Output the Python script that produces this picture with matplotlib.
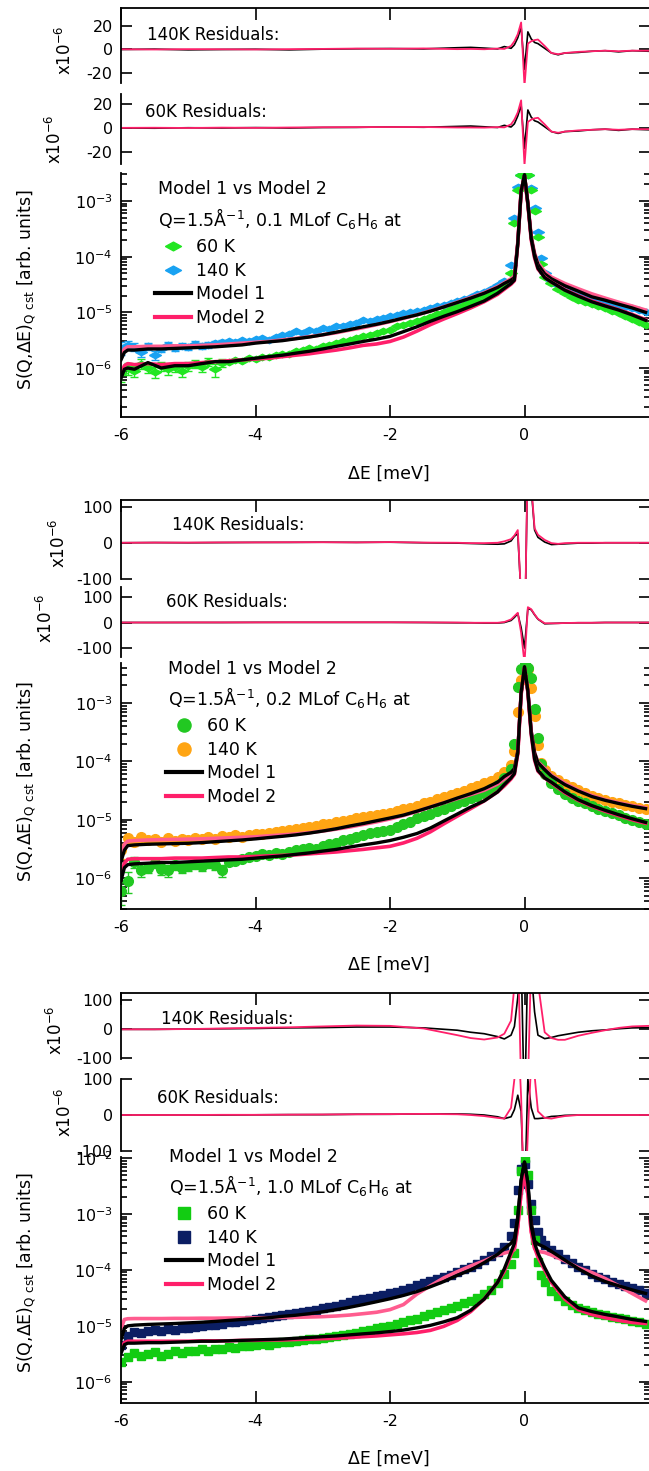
import numpy as np
import matplotlib.pyplot as plt
from matplotlib.ticker import FixedLocator, LogLocator, NullFormatter

plt.rcParams['font.family'] = ['DejaVu Sans']
plt.rcParams['mathtext.default'] = 'regular'
plt.rcParams['axes.unicode_minus'] = False

# energy transfer grids (meV)
E_pts = np.concatenate([np.arange(-60, -2) / 10,
                        [-0.2, -0.15, -0.1, -0.05, 0.0, 0.05, 0.1, 0.15, 0.2, 0.25, 0.3],
                        np.arange(4, 19) / 10])
E_fit = np.concatenate([[-6.0, -5.95, -5.9, -5.8], np.arange(-28, -1) / 5,
                        [-0.3, -0.2, -0.15, -0.1, -0.05, 0.0, 0.05, 0.1, 0.15, 0.2, 0.3],
                        np.arange(2, 10) / 5])
E_res = [-6, -5.5, -5, -4.5, -4, -3.5, -3, -2.5, -2, -1.5, -1,
         -0.8, -0.6, -0.4, -0.3, -0.2, -0.15, -0.1, -0.05, 0, 0.05, 0.1, 0.15,
         0.2, 0.3, 0.4, 0.5, 0.6, 0.8, 1.0, 1.2, 1.4, 1.6, 1.85]

# ---- 0.1 ML (intensities in 1e-6 arb. units) ----
s60_01 = [0.8, 1.0, 0.9, 1.2, 1.0, 0.85, 1.1, 0.95, 1.05, 0.9,
          1.1, 1.2, 1.05, 1.3, 0.95, 1.25, 1.3, 1.4, 1.35, 1.5,
          1.45, 1.6, 1.55, 1.7, 1.8, 1.75, 2.0, 2.1, 2.3, 2.2,
          2.5, 2.6, 2.8, 3.0, 3.2, 3.4, 3.7, 3.9, 4.3, 4.6,
          4.9, 5.6, 5.9, 6.5, 7.0, 7.6, 8.4, 9.3, 10.2, 11.4,
          12.5, 13.8, 15.3, 17.0, 19.5, 22.0, 26, 31,
          50, 400, 1600, 2900, 3200, 2900, 1600, 650, 230, 75, 44,
          33, 26, 22, 19, 17, 15.5, 14.2, 13, 11.8, 10.6, 9.6, 8.6, 7.6, 6.7, 6.0]
s140_01 = [2.3, 2.6, 2.4, 1.9, 2.5, 1.7, 2.2, 2.6, 2.3, 2.5,
           2.4, 2.7, 2.5, 2.6, 2.8, 2.9, 3.1, 2.9, 3.2, 3.0,
           3.3, 3.4, 3.2, 3.6, 3.9, 4.1, 4.6, 4.3, 4.8, 4.7,
           5.2, 5.0, 5.6, 5.7, 6.1, 6.4, 7.4, 7.0, 7.6, 8.0,
           8.5, 8.9, 9.6, 10.0, 10.6, 11.2, 12.0, 13.0, 13.8, 15.0,
           16.2, 17.5, 19.2, 21.0, 23.5, 26.5, 30.5, 36,
           70, 500, 1800, 2900, 3150, 2900, 1700, 750, 280, 95, 50,
           38, 31, 27, 24, 22, 19.5, 18, 16.5, 15.5, 14.5, 13.5, 12.7, 11.8, 10.9, 10.0]
err60_01 = [0.25, 0.25, 0.2, 0.25, 0.2, 0.2, 0.2, 0.2, 0.2, 0.2, 0.2, 0.2, 0.2, 0.2, 0.25, 0.2]
err140_01 = [0.6, 0.4, 0.4, 0.35, 0.35, 0.3, 0.3, 0.3, 0.3, 0.3, 0.3, 0.3, 0.3, 0.3, 0.3, 0.3]

m1_60_01 = [0.65, 0.95, 1.0, 0.95,
            1.25, 1.0, 1.1, 1.1, 1.2, 1.3, 1.3, 1.4, 1.5, 1.6,
            1.7, 1.85, 2.0, 2.2, 2.45, 2.7, 3.0, 3.3, 3.7,
            4.5, 5.5, 6.9, 8.5, 10.3, 12.8, 16, 22,
            27, 33, 38, 170, 1500, 2950, 900, 210, 100, 62, 42,
            35, 25, 19.5, 15.5, 13, 11, 9, 7.2]
m2_60_01 = [0.75, 1.1, 1.2, 1.15,
            1.2, 1.15, 1.2, 1.2, 1.25, 1.3, 1.35, 1.4, 1.45, 1.5,
            1.6, 1.7, 1.8, 1.95, 2.1, 2.3, 2.55, 2.7, 3.0,
            3.6, 4.6, 6.0, 7.6, 9.5, 12, 15.5, 21,
            26, 32, 37, 170, 1500, 2800, 880, 200, 95, 60, 43,
            35, 25.5, 20, 16, 13.3, 11.2, 9.2, 7.4]
m1_140_01 = [1.4, 1.9, 2.1, 2.1,
             2.2, 2.2, 2.25, 2.3, 2.35, 2.4, 2.5, 2.6, 2.8, 2.95,
             3.1, 3.35, 3.6, 3.95, 4.4, 4.9, 5.5, 6.1, 6.9,
             7.9, 9.0, 10.5, 12.5, 15, 18, 22, 28,
             33, 38, 42, 175, 1500, 2950, 900, 220, 110, 72, 49,
             40, 30, 24, 19, 16.5, 14, 12, 10]
m2_140_01 = [1.6, 2.2, 2.4, 2.4,
             2.45, 2.45, 2.5, 2.5, 2.55, 2.6, 2.7, 2.8, 2.9, 3.0,
             3.2, 3.4, 3.65, 3.95, 4.3, 4.8, 5.3, 6.0, 6.8,
             7.8, 9.0, 10.6, 12.6, 15.2, 18.5, 22.5, 29,
             34, 40, 45, 180, 1500, 2800, 900, 230, 115, 78, 54,
             43, 33, 26.5, 21.5, 18, 15.2, 13, 11]

r1_140_01 = [0, 0.3, -0.3, 0, 0.2, -0.3, 0.3, 0.6, 0.8, 0.5, 1.5,
             1.8, 1.2, 0.5, 2.5, 1.0, 4, 10, 19, -17, 15, 9, 6,
             5, 1, -3, -4.5, -3, -2.5, -1.5, -1, -2, -1, -1.5]
r2_140_01 = [0.2, 0, 0.3, 0.2, 0, 0.3, 0.5, 0.8, 0.6, 0.9, 0.3,
             0.5, 0.2, 0.8, 0.5, 3, 7, 13, 23, -31, 5, 7, 8,
             8.5, 3, -3, -4, -3, -2, -1.5, -1, -1.5, -1, -1]
r1_60_01 = [0, -0.2, 0.2, 0, 0.3, 0, 0.4, 0.5, 0.9, 0.6, 1.3,
            1.6, 1.0, 0.4, 2.2, 0.8, 3.5, 10, 19, -17, 15, 9, 6,
            5, 1, -3, -4.5, -3, -2.5, -1.5, -1, -2, -1, -1.5]
r2_60_01 = [0.1, 0.2, 0, 0.3, 0.1, 0.4, 0.6, 0.7, 0.8, 0.8, 0.4,
            0.4, 0.3, 0.7, 0.5, 3, 7, 13, 23, -31, 5, 7, 8,
            8.5, 3, -3, -4, -3, -2, -1.5, -1, -1.5, -1, -1]

# ---- 0.2 ML ----
s60_02 = [0.6, 0.9, 1.9, 1.4, 1.5, 1.8, 1.45, 1.35, 1.7, 1.5,
          1.6, 1.75, 1.6, 1.8, 1.7, 1.35, 1.9, 2.0, 2.1, 2.3,
          2.4, 2.6, 2.5, 2.7, 2.6, 2.8, 3.0, 3.1, 3.3, 3.2,
          3.5, 3.8, 4.0, 4.5, 4.6, 5.0, 5.5, 5.9, 6.2, 6.4,
          6.7, 7.5, 8.3, 9.2, 10.5, 11.5, 12.5, 14, 15.5, 17,
          19, 21, 23.5, 26, 29, 33, 40, 52,
          75, 200, 1900, 3800, 4600, 4000, 2700, 800, 250, 90, 60,
          42, 34, 28, 24, 21, 19, 17, 15.5, 14, 13, 12, 10.8, 10, 9.2, 8.5]
s140_02 = [3.0, 4.8, 4.2, 5.0, 4.5, 4.6, 4.2, 4.8, 4.4, 4.7,
           4.5, 4.8, 4.6, 5.0, 4.7, 5.2, 5.0, 5.4, 5.1, 5.5,
           5.6, 5.8, 5.9, 6.2, 6.3, 6.7, 6.9, 7.3, 7.5, 7.9,
           8.3, 8.6, 9.1, 9.6, 10.0, 10.5, 11.0, 11.5, 11.9, 12.3,
           13.0, 14.0, 15.0, 16.2, 17.5, 19.0, 20.5, 22.5, 24.5, 26.5,
           29, 31.5, 34.5, 38, 42, 46, 54, 66,
           85, 150, 700, 2500, 4000, 3800, 1800, 600, 190, 95, 71,
           57, 48, 41, 36, 32, 29, 26, 24, 22, 20.5, 19, 18, 17, 16, 15]
err60_02 = [0.25, 0.35, 0.4, 0.35, 0.3, 0.3, 0.3, 0.3, 0.3, 0.3, 0.3, 0.3, 0.3, 0.3, 0.3, 0.3]
err140_02 = [0.9, 0.7, 0.6, 0.6, 0.5, 0.5, 0.5, 0.5, 0.5, 0.5, 0.5, 0.5, 0.5, 0.5, 0.5, 0.5]

m1_60_02 = [0.9, 1.5, 1.7, 1.75,
            1.8, 1.85, 1.85, 1.9, 1.95, 2.0, 2.05, 2.1, 2.2, 2.3,
            2.4, 2.55, 2.7, 2.9, 3.1, 3.4, 3.7, 4.0, 4.4,
            5.0, 5.8, 7.2, 9.5, 12.5, 16.5, 21, 30,
            40, 52, 62, 140, 1500, 4200, 1600, 300, 110, 70, 52,
            44, 30, 22, 17.5, 14.5, 12.2, 10.4, 9.0]
m2_60_02 = [1.1, 1.8, 2.1, 2.15,
            2.15, 2.15, 2.2, 2.2, 2.2, 2.25, 2.3, 2.3, 2.35, 2.4,
            2.45, 2.5, 2.6, 2.7, 2.8, 2.95, 3.1, 3.3, 3.5,
            4.0, 4.8, 6.2, 8.5, 11.5, 15.5, 21, 30,
            38, 50, 60, 135, 1450, 4100, 1550, 290, 105, 68, 52,
            43, 29, 21.5, 17, 14, 11.8, 10, 8.7]
m1_140_02 = [1.9, 3.0, 3.6, 3.7,
             3.8, 3.85, 3.9, 3.95, 4.05, 4.2, 4.35, 4.5, 4.7, 4.95,
             5.2, 5.5, 5.9, 6.4, 7.0, 7.8, 8.6, 9.6, 10.7,
             12.0, 14.0, 16.5, 19.5, 23.5, 28, 34, 44,
             55, 65, 75, 150, 1500, 4000, 1600, 330, 140, 95, 72,
             56, 40, 31, 25, 21.5, 19, 17, 15.5]
m2_140_02 = [2.3, 3.8, 4.3, 4.4,
             4.5, 4.55, 4.6, 4.65, 4.7, 4.8, 4.9, 5.0, 5.1, 5.3,
             5.5, 5.7, 6.0, 6.4, 6.9, 7.5, 8.3, 9.2, 10.3,
             11.8, 13.8, 16.5, 19.5, 23, 27, 32, 41,
             50, 60, 70, 140, 1400, 3900, 1550, 320, 140, 98, 76,
             58, 42, 32, 26, 22, 19.5, 17.5, 16]

r1_140_02 = [0, 0.5, 0, 0.5, 1, 1, 1.5, 1, 1.5, 0, -1,
             -2, -3, -4, -3, 5, 18, 25, -150, -300, 250, 150, 35,
             15, 2, -5, -4, -3, -1, -1, 0, 0, 0, 0]
r2_140_02 = [0, 0.5, 0.5, 1, 1, 1.5, 1.5, 1, 2, 0.5, 0,
             -1, -1, 0, 4, 10, 20, 35, -150, -300, 260, 160, 40,
             22, 8, -1, -3, -1, 0, 0, 0, 0, 0, 0]
r1_60_02 = [0, 0, 0, 0, 0.5, 0.5, 0.5, 0.5, 0.5, 0, -1,
            -1, -2, -2, 0, 8, 20, 35, -20, -100, 55, 50, 30,
            13, -5, -4, -3, -2, -1, -1, 0, 0, 0, 0]
r2_60_02 = [0, 0, 0.5, 0.5, 0.5, 1, 1, 1, 1, 0.5, 0,
            -1, -1, -1, 2, 12, 25, 38, -40, -160, 60, 52, 32,
            14, -3, -3, -3, -2, -1, -1, 0, 0, 0, 0]

# ---- 1.0 ML ----
s60_10 = [2.3, 2.8, 3.3, 2.9, 3.1, 3.4, 2.9, 3.2, 3.5, 3.3,
          3.6, 3.5, 3.8, 3.6, 3.9, 3.8, 4.1, 4.0, 4.3, 4.4,
          4.5, 4.7, 4.6, 4.9, 5.1, 5.2, 5.3, 5.6, 5.7, 5.9,
          6.1, 6.4, 6.6, 7.0, 7.2, 7.6, 8.0, 8.5, 9.0, 9.5,
          10.0, 10.8, 11.5, 12.5, 13.5, 14.8, 16, 17.5, 19, 21,
          23, 25.5, 28, 32, 37, 44, 58, 85,
          130, 200, 1200, 6000, 10000, 5000, 1200, 350, 140, 80, 60,
          42, 34, 28, 24, 21, 19, 18, 16.5, 15.5, 14.5, 13.8, 13, 12.2, 11.5, 10.8]
s140_10 = [4.5, 6.5, 7.8, 7.5, 8.2, 8.5, 8.0, 8.7, 8.4, 9.0,
           9.3, 9.6, 9.8, 10.2, 10.5, 10.9, 11.5, 11.8, 12.3, 12.8,
           13.5, 14.0, 14.5, 15.0, 15.5, 16.3, 17.0, 17.8, 18.6, 19.5,
           20.5, 21.5, 23, 24.5, 26.5, 28.5, 30, 32, 34, 36,
           38.5, 41, 44, 48, 53, 58, 63, 68, 74, 82,
           92, 102, 115, 130, 150, 175, 210, 255,
           400, 700, 2700, 6500, 8000, 3500, 1500, 780, 480, 340, 280,
           230, 190, 160, 135, 115, 98, 84, 75, 68, 62, 57, 52, 47, 43, 39]

m1_60_10 = [3.2, 4.6, 4.9, 4.9,
            5.0, 5.0, 5.1, 5.2, 5.3, 5.3, 5.4, 5.5, 5.6, 5.7,
            5.8, 6.0, 6.2, 6.4, 6.6, 6.9, 7.2, 7.5, 7.9,
            8.4, 9.2, 10.2, 11.8, 14, 19, 30, 60,
            105, 210, 300, 800, 4000, 8500, 3500, 600, 300, 200, 110,
            65, 33, 21, 18, 16, 14.5, 13, 12]
m2_60_10 = [3.6, 5.0, 5.3, 5.3,
            5.3, 5.3, 5.3, 5.3, 5.4, 5.4, 5.4, 5.5, 5.5, 5.6,
            5.6, 5.7, 5.8, 5.9, 6.0, 6.2, 6.4, 6.6, 6.9,
            7.2, 7.6, 8.3, 9.8, 12.5, 18, 30, 60,
            95, 190, 260, 600, 2500, 5000, 2300, 480, 250, 170, 100,
            60, 30, 19.5, 16, 14, 12.5, 11.5, 11.0]
m1_140_10 = [5.6, 9.0, 10.0, 10.3,
             10.6, 10.8, 11.0, 11.3, 11.6, 12.0, 12.5, 13.0, 13.5, 14.0,
             14.8, 15.5, 16.5, 17.8, 19.5, 21.5, 24, 27, 30.5,
             35, 41, 50, 62, 80, 100, 135, 190,
             240, 300, 360, 900, 4000, 8500, 3500, 700, 330, 290, 255,
             215, 150, 105, 78, 62, 52, 44, 38]
m2_140_10 = [8.9, 13, 13.4, 13.5,
             13.5, 13.5, 13.6, 13.6, 13.7, 13.7, 13.8, 13.8, 13.9, 14.0,
             14.1, 14.2, 14.4, 14.6, 15.0, 15.6, 16.5, 17.5, 19.5,
             24, 37, 52, 72, 93, 118, 145, 185,
             200, 215, 230, 600, 2500, 5000, 2300, 500, 240, 215, 205,
             185, 145, 110, 90, 70, 52, 38, 28]

r1_140_10 = [0, 0, 1, 2, 3, 5, 6, 8, 8, 5, -3,
             -10, -15, -25, -33, -20, 10, 110, 250, -300, 250, 200, 60,
             -20, -32, -28, -22, -18, -10, -5, -2, 2, 5, 6]
r2_140_10 = [0, 0, 1, 3, 5, 7, 10, 13, 12, 3, -20,
             -30, -35, -28, -15, 30, 150, 300, -200, -300, -200, 250, 180,
             160, -10, -30, -36, -36, -22, -12, -3, 5, 10, 12]
r1_60_10 = [0, 0, 0, 0, 0.5, 1, 1, 2, 2, 3, 3,
            2, 0, -5, -10, -5, 15, 55, 10, -250, 100, 20, -10,
            -10, -8, -4, -3, -1, 0, 0, 0, 0, 0, 0]
r2_60_10 = [0, 0, 0, 0.5, 0.5, 1, 1.5, 2, 2.5, 3, 2,
            0, -3, -8, -10, 20, 100, 250, 50, -300, -50, 150, 110,
            10, -8, -10, -6, -3, 0, 0, 0, 0, 0, 0]

UNIT = 1e-6
W, H = 649, 1471
X0, X1 = 121, 650
XLIM = (-6, -6 + (X1 - X0) / 67.25)
PINK = '#ff1f6a'
PINK_LIGHT = '#ff5c8f'
FLAT_DIAMOND = [(-1, 0), (0, 0.55), (1, 0), (0, -0.55), (-1, 0)]


def box(top, bottom):
    return [X0 / W, 1 - bottom / H, (X1 - X0) / W, (bottom - top) / H]


def fx(x):
    return x / W


def fy(y):
    return 1 - y / H


groups = [
    dict(cov='0.1', s60=s60_01, s140=s140_01, e60=err60_01, e140=err140_01,
         m1_60=m1_60_01, m2_60=m2_60_01, m1_140=m1_140_01, m2_140=m2_140_01,
         res140=(r1_140_01, r2_140_01), res60=(r1_60_01, r2_60_01),
         c60='#22e622', c140='#19a2f2', marker=FLAT_DIAMOND, ms=8.5,
         r1=(8, 83, -28.5, 35.3, [20, 0, -20]), r2=(94, 164, -30, 28.3, [20, 0, -20]),
         main=(173, 417, -6.88, -2.497),
         r1_lab=(65, 50), r2_lab=(55, 139), r1_txt=(147, 40), r2_txt=(145, 117),
         head=(158, 194, 226), leg=(155, 238), ylab_y=290, xlab_y=474),
    dict(cov='0.2', s60=s60_02, s140=s140_02, e60=err60_02, e140=err140_02,
         m1_60=m1_60_02, m2_60=m2_60_02, m1_140=m1_140_02, m2_140=m2_140_02,
         res140=(r1_140_02, r2_140_02), res60=(r1_60_02, r2_60_02),
         c60='#22c822', c140='#ffa514', marker='o', ms=7,
         r1=(500, 579, -100, 118, [100, 0, -100]), r2=(587, 657, -135, 139, [100, 0, -100]),
         main=(663, 909, -6.53, -2.314),
         r1_lab=(59, 543), r2_lab=(46, 618), r1_txt=(172, 530), r2_txt=(166, 607),
         head=(168, 674, 705), leg=(166, 717), ylab_y=782, xlab_y=965),
    dict(cov='1.0', s60=s60_10, s140=s140_10, e60=None, e140=None,
         m1_60=m1_60_10, m2_60=m2_60_10, m1_140=m1_140_10, m2_140=m2_140_10,
         res140=(r1_140_10, r2_140_10), res60=(r1_60_10, r2_60_10),
         c60='#12cc12', c140='#0b1e63', marker='s', ms=6.2,
         r1=(993, 1059, -102, 125, [100, 0, -100]), r2=(1079, 1151, -100, 100, [100, 0, -100]),
         main=(1157, 1403, -6.38, -1.98),
         r1_lab=(56, 1030), r2_lab=(65, 1112), r1_txt=(161, 1024), r2_txt=(157, 1103),
         head=(169, 1162, 1193), leg=(166, 1205), ylab_y=1273, xlab_y=1459),
]

fig = plt.figure(figsize=(W / 100, H / 100), dpi=100)


def residual_axis(spec, first, curves, label_xy, text_xy, title):
    top, bottom, lo, hi, ticks = spec
    ax = fig.add_axes(box(top, bottom))
    ax.plot(E_res, curves[0], color='black', lw=1.2)
    ax.plot(E_res, curves[1], color=PINK, lw=1.3)
    ax.set_xlim(*XLIM)
    ax.set_ylim(lo, hi)
    ax.set_yticks(ticks)
    ax.set_yticklabels([str(t) for t in ticks])
    for side in ('right', 'bottom'):
        ax.spines[side].set_visible(False)
    ax.spines['top'].set_visible(first)
    for s in ax.spines.values():
        s.set_linewidth(1.3)
    ax.tick_params(axis='y', direction='in', left=True, right=True, length=8,
                   width=1.2, labelsize=11.5, pad=6)
    if first:
        ax.xaxis.set_major_locator(FixedLocator([-6, -4, -2, 0]))
        ax.tick_params(axis='x', direction='in', top=True, bottom=False,
                       labelbottom=False, length=8.5, width=1.2)
    else:
        ax.set_xticks([])
    fig.text(fx(label_xy[0]), fy(label_xy[1]), r'x10$^{-6}$', rotation=90,
             ha='center', va='center', fontsize=12)
    fig.text(fx(text_xy[0]), fy(text_xy[1]), title, ha='left', va='baseline',
             fontsize=12)
    return ax


for g in groups:
    residual_axis(g['r1'], True, g['res140'], g['r1_lab'], g['r1_txt'], '140K Residuals:')
    residual_axis(g['r2'], False, g['res60'], g['r2_lab'], g['r2_txt'], '60K Residuals:')

    top, bottom, lo, hi = g['main']
    ax = fig.add_axes(box(top, bottom))
    ax.set_yscale('log')

    y60 = np.array(g['s60']) * UNIT
    y140 = np.array(g['s140']) * UNIT
    for y, err, c in ((y60, g['e60'], g['c60']), (y140, g['e140'], g['c140'])):
        if err is not None:
            n = len(err)
            ax.errorbar(E_pts[:n], y[:n], yerr=np.array(err) * UNIT, fmt='none',
                        ecolor=c, elinewidth=1.0, capsize=3, capthick=1.0)
    h140, = ax.plot(E_pts, y140, ls='none', marker=g['marker'], ms=g['ms'],
                    color=g['c140'], mec=g['c140'])
    h60, = ax.plot(E_pts, y60, ls='none', marker=g['marker'], ms=g['ms'],
                   color=g['c60'], mec=g['c60'])

    ax.plot(E_fit, np.array(g['m2_140']) * UNIT, color=PINK_LIGHT, lw=2.6)
    ax.plot(E_fit, np.array(g['m1_140']) * UNIT, color='black', lw=2.4)
    l2, = ax.plot(E_fit, np.array(g['m2_60']) * UNIT, color=PINK, lw=2.6)
    l1, = ax.plot(E_fit, np.array(g['m1_60']) * UNIT, color='black', lw=2.4)

    ax.set_xlim(*XLIM)
    ax.set_ylim(10 ** lo, 10 ** hi)
    ax.spines['top'].set_visible(False)
    ax.spines['right'].set_visible(False)
    for s in ax.spines.values():
        s.set_linewidth(1.3)
    ax.xaxis.set_major_locator(FixedLocator([-6, -4, -2, 0]))
    ax.yaxis.set_major_locator(LogLocator(base=10, numticks=12))
    ax.yaxis.set_minor_locator(LogLocator(base=10, subs=np.arange(2, 10), numticks=12))
    ax.yaxis.set_minor_formatter(NullFormatter())
    ax.tick_params(axis='y', which='both', direction='in', left=True, right=True,
                   width=1.2, labelsize=11.5, pad=6)
    ax.tick_params(axis='y', which='major', length=8)
    ax.tick_params(axis='y', which='minor', length=4)
    ax.tick_params(axis='x', direction='in', length=8.5, width=1.2,
                   labelsize=11.5, pad=8)

    leg = ax.legend([h60, h140, l1, l2], ['60 K', '140 K', 'Model 1', 'Model 2'],
                    loc='upper left', bbox_to_anchor=(fx(g['leg'][0]), fy(g['leg'][1])),
                    bbox_transform=fig.transFigure, frameon=False, fontsize=12.5,
                    handlelength=2.1, handletextpad=0.25, labelspacing=0.33,
                    borderpad=0, borderaxespad=0, markerscale=1.35)
    for line in leg.get_lines():
        line.set_linewidth(3)

    hx, hy1, hy2 = g['head']
    fig.text(fx(hx), fy(hy1), 'Model 1 vs Model 2', fontsize=12.5, va='baseline')
    fig.text(fx(hx), fy(hy2), r'Q=1.5Å$^{-1}$, ' + g['cov'] + r' MLof C$_6$H$_6$ at',
             fontsize=12.5, va='baseline')
    fig.text(fx(27), fy(g['ylab_y']), r'S(Q,ΔE)$_{Q\ cst}$ [arb. units]',
             rotation=90, ha='center', va='center', fontsize=12.5)
    fig.text(fx(389), fy(g['xlab_y']), 'ΔE [meV]', ha='center', va='center',
             fontsize=12.5)

fig.savefig('out.png', dpi=100)
